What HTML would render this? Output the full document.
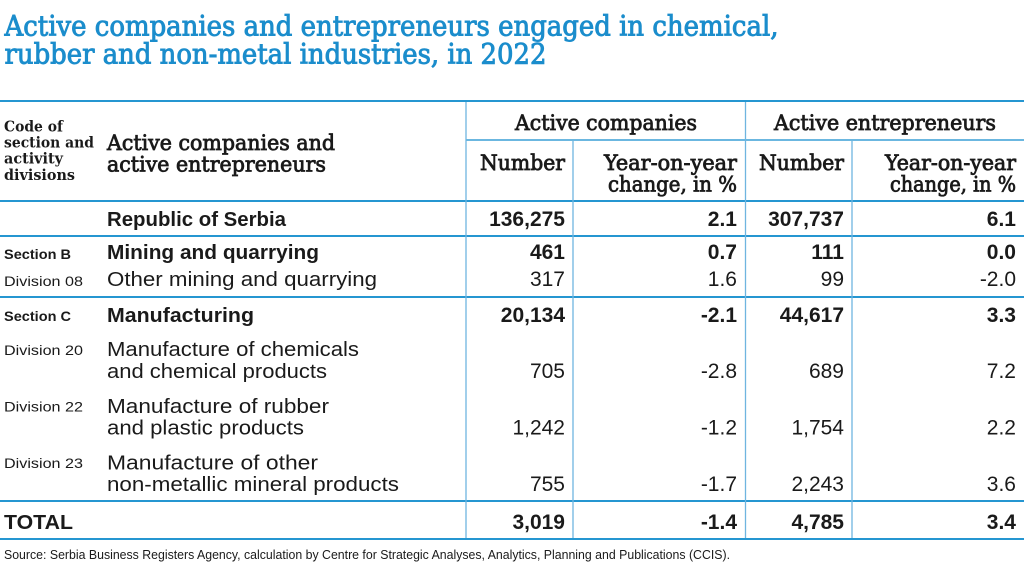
<!DOCTYPE html>
<html>
<head>
<meta charset="utf-8">
<style>
html,body{margin:0;padding:0;background:#fff;}
svg{display:block;}
.t{font-family:"DejaVu Serif","Liberation Serif",serif;fill:#1b8dcc;font-size:28px;stroke:#1b8dcc;stroke-width:0.9px;}
.hs{font-family:"DejaVu Serif","Liberation Serif",serif;fill:#1a1a1a;}
.s{font-family:"Liberation Sans",Arial,sans-serif;fill:#1a1a1a;}
.b{font-weight:bold;}
.n{font-size:21px;text-anchor:end;}
.l{font-size:20px;}
.sm{font-size:14px;}
</style>
</head>
<body>
<svg width="1024" height="578" viewBox="0 0 1024 578" xmlns="http://www.w3.org/2000/svg">
<rect width="1024" height="578" fill="#fff"/>
<!-- Title -->
<text class="t" x="4.5" y="35.5" textLength="774" lengthAdjust="spacingAndGlyphs">Active companies and entrepreneurs engaged in chemical,</text>
<text class="t" x="4.5" y="63.5" textLength="542" lengthAdjust="spacingAndGlyphs">rubber and non-metal industries, in 2022</text>

<!-- Lines -->
<g stroke="#2596d1" stroke-width="2">
<line x1="0" y1="101" x2="1024" y2="101"/>
<line x1="0" y1="201" x2="1024" y2="201"/>
<line x1="0" y1="236" x2="1024" y2="236"/>
<line x1="0" y1="297" x2="1024" y2="297"/>
<line x1="0" y1="501" x2="1024" y2="501"/>
<line x1="0" y1="539" x2="1024" y2="539"/>
</g>
<line x1="466" y1="140" x2="1024" y2="140" stroke="#3a9fd6" stroke-width="1.5"/>
<g stroke="#6fb5e0" stroke-width="1.3">
<line x1="466" y1="102" x2="466" y2="538"/>
<line x1="745.5" y1="102" x2="745.5" y2="538"/>
<line x1="573" y1="141" x2="573" y2="538"/>
<line x1="852" y1="141" x2="852" y2="538"/>
</g>

<!-- Header -->
<g class="hs b" font-size="14.5">
<text x="4" y="131.5" textLength="59" lengthAdjust="spacingAndGlyphs">Code of</text>
<text x="4" y="147.5" textLength="90" lengthAdjust="spacingAndGlyphs">section and</text>
<text x="4" y="163.5" textLength="59" lengthAdjust="spacingAndGlyphs">activity</text>
<text x="4" y="180" textLength="71" lengthAdjust="spacingAndGlyphs">divisions</text>
</g>
<g class="hs" font-size="21" stroke="#1a1a1a" stroke-width="0.8">
<text x="107" y="150" textLength="228" lengthAdjust="spacingAndGlyphs">Active companies and</text>
<text x="107" y="171.5" textLength="219" lengthAdjust="spacingAndGlyphs">active entrepreneurs</text>
<text x="515" y="130" textLength="182" lengthAdjust="spacingAndGlyphs">Active companies</text>
<text x="774" y="130" textLength="222" lengthAdjust="spacingAndGlyphs">Active entrepreneurs</text>
<text x="480" y="170" textLength="85" lengthAdjust="spacingAndGlyphs">Number</text>
<text x="604" y="170" textLength="133" lengthAdjust="spacingAndGlyphs">Year-on-year</text>
<text x="608" y="191.5" textLength="129" lengthAdjust="spacingAndGlyphs">change, in %</text>
<text x="759" y="170" textLength="85" lengthAdjust="spacingAndGlyphs">Number</text>
<text x="885" y="170" textLength="131" lengthAdjust="spacingAndGlyphs">Year-on-year</text>
<text x="890" y="191.5" textLength="126" lengthAdjust="spacingAndGlyphs">change, in %</text>
</g>

<!-- Left small labels -->
<g class="s sm">
<text class="b" x="4" y="259" textLength="67" lengthAdjust="spacingAndGlyphs">Section B</text>
<text x="4" y="286" textLength="79" lengthAdjust="spacingAndGlyphs">Division 08</text>
<text class="b" x="4" y="321" textLength="67" lengthAdjust="spacingAndGlyphs">Section C</text>
<text x="4" y="355" textLength="79" lengthAdjust="spacingAndGlyphs">Division 20</text>
<text x="4" y="411.5" textLength="79" lengthAdjust="spacingAndGlyphs">Division 22</text>
<text x="4" y="468" textLength="79" lengthAdjust="spacingAndGlyphs">Division 23</text>
</g>

<!-- Main labels -->
<g class="s l">
<text class="b" x="107" y="226" textLength="179" lengthAdjust="spacingAndGlyphs">Republic of Serbia</text>
<text class="b" x="107" y="259" textLength="212" lengthAdjust="spacingAndGlyphs">Mining and quarrying</text>
<text x="107" y="286" textLength="270" lengthAdjust="spacingAndGlyphs">Other mining and quarrying</text>
<text class="b" x="107" y="322" textLength="147" lengthAdjust="spacingAndGlyphs">Manufacturing</text>
<text x="107" y="356" textLength="252" lengthAdjust="spacingAndGlyphs">Manufacture of chemicals</text>
<text x="107" y="378" textLength="220" lengthAdjust="spacingAndGlyphs">and chemical products</text>
<text x="107" y="413" textLength="222" lengthAdjust="spacingAndGlyphs">Manufacture of rubber</text>
<text x="107" y="434.5" textLength="197" lengthAdjust="spacingAndGlyphs">and plastic products</text>
<text x="107" y="469.5" textLength="211" lengthAdjust="spacingAndGlyphs">Manufacture of other</text>
<text x="107" y="491" textLength="292" lengthAdjust="spacingAndGlyphs">non-metallic mineral products</text>
<text class="b" x="4" y="529" textLength="69" lengthAdjust="spacingAndGlyphs">TOTAL</text>
</g>

<!-- Numbers -->
<g class="s n">
<g class="b">
<text x="565" y="226">136,275</text><text x="737" y="226">2.1</text><text x="844" y="226">307,737</text><text x="1016" y="226">6.1</text>
<text x="565" y="259">461</text><text x="737" y="259">0.7</text><text x="844" y="259">111</text><text x="1016" y="259">0.0</text>
<text x="565" y="322">20,134</text><text x="737" y="322">-2.1</text><text x="844" y="322">44,617</text><text x="1016" y="322">3.3</text>
<text x="565" y="529">3,019</text><text x="737" y="529">-1.4</text><text x="844" y="529">4,785</text><text x="1016" y="529">3.4</text>
</g>
<text x="565" y="286">317</text><text x="737" y="286">1.6</text><text x="844" y="286">99</text><text x="1016" y="286">-2.0</text>
<text x="565" y="378">705</text><text x="737" y="378">-2.8</text><text x="844" y="378">689</text><text x="1016" y="378">7.2</text>
<text x="565" y="434.5">1,242</text><text x="737" y="434.5">-1.2</text><text x="844" y="434.5">1,754</text><text x="1016" y="434.5">2.2</text>
<text x="565" y="491">755</text><text x="737" y="491">-1.7</text><text x="844" y="491">2,243</text><text x="1016" y="491">3.6</text>
</g>

<!-- Source -->
<text class="s" x="4" y="559" font-size="12.5" textLength="726" lengthAdjust="spacingAndGlyphs">Source: Serbia Business Registers Agency, calculation by Centre for Strategic Analyses, Analytics, Planning and Publications (CCIS).</text>
</svg>
</body>
</html>
